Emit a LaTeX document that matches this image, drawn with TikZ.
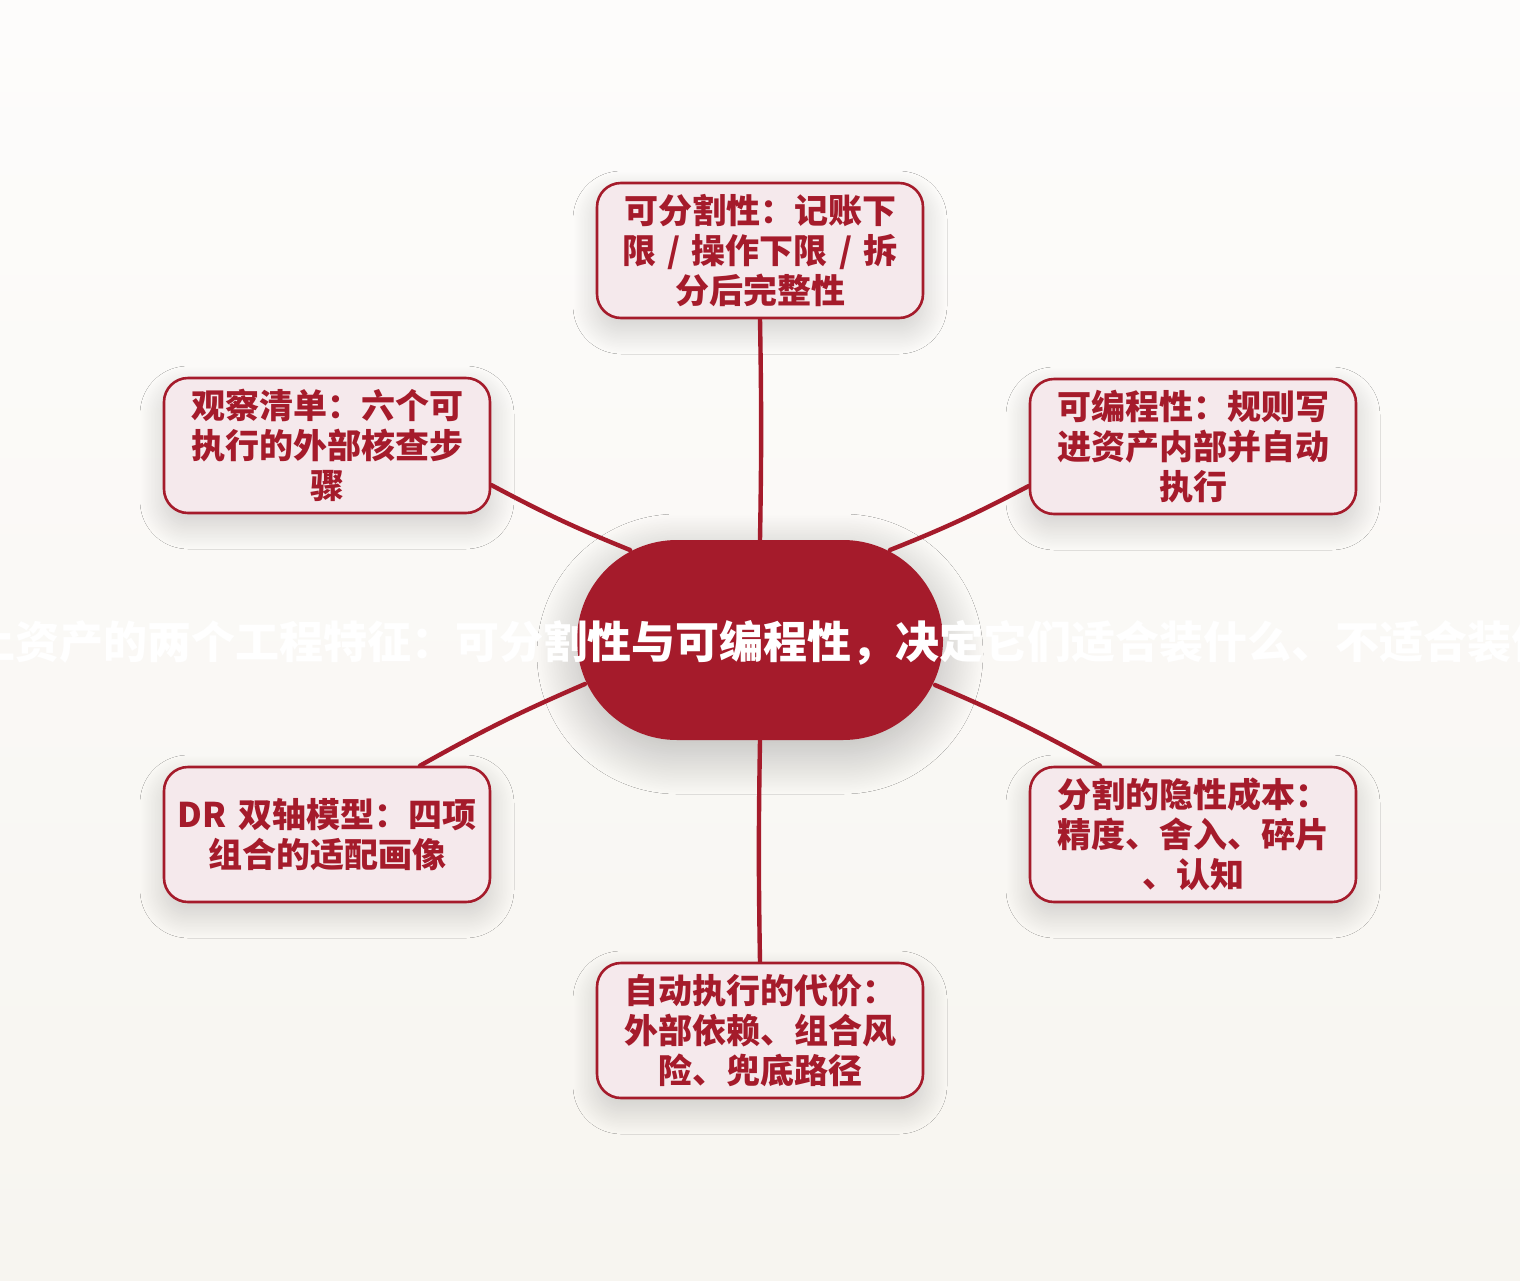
\documentclass[tikz,border=0pt]{standalone}
\usepackage{fontspec}
\setmainfont{Noto Sans CJK SC}
\usetikzlibrary{calc,shadows.blur}
\definecolor{dr}{RGB}{165,27,43}
\definecolor{pk}{RGB}{245,233,236}
\definecolor{bgtop}{RGB}{253,252,251}
\definecolor{bgbot}{RGB}{247,245,240}
\begin{document}
\begin{tikzpicture}[x=0.5pt,y=-0.5pt,
  leaf/.style={draw=dr, line width=1.3pt, fill=pk, rounded corners=12pt,
    minimum width=163pt, minimum height=67.5pt, inner sep=0pt,
    text width=158pt, align=center, text=dr,
    font=\fontsize{17}{20}\selectfont\bfseries,
    blur shadow={shadow xshift=0pt, shadow yshift=-6pt, shadow blur radius=12pt, shadow blur steps=40, shadow opacity=18}},
  hub/.style={fill=dr, rounded corners=50pt, minimum width=183pt, minimum height=100pt, inner sep=0pt,
    blur shadow={shadow xshift=0pt, shadow yshift=-7pt, shadow blur radius=20pt, shadow blur steps=50, shadow opacity=26}},
  hubtext/.style={text=white, inner sep=0pt, font=\fontsize{22}{26}\selectfont\bfseries},
  link/.style={draw=dr, line width=2.2pt, line cap=round}]
\useasboundingbox (0,0) rectangle (1520,1280);
\clip (0,0) rectangle (1520,1280);
\fill[top color=bgtop, bottom color=bgbot] (0,0) rectangle (1520,1280);

\node[hub] (c) at (760,640) {};

\node[leaf] (t) at (760,250.5) {可分割性：记账下\\限 / 操作下限 / 拆\\分后完整性};
\node[leaf] (ul) at (327,445.5) {观察清单：六个可\\执行的外部核查步\\骤};
\node[leaf] (ur) at (1193,446.5) {可编程性：规则写\\进资产内部并自动\\执行};
\node[leaf] (ll) at (327,834.5) {DR 双轴模型：四项\\组合的适配画像};
\node[leaf] (lr) at (1193,834.5) {分割的隐性成本：\\精度、舍入、碎片\\、认知};
\node[leaf] (b) at (760,1030.5) {自动执行的代价：\\外部依赖、组合风\\险、兜底路径};

\coordinate (cul) at ($(c)+(-130,-90)$);
\coordinate (cur) at ($(c)+(130,-90)$);
\coordinate (cll) at ($(c)+(-175,44)$);
\coordinate (clr) at ($(c)+(175,45)$);
\coordinate (bul) at ($(ul.east)+(0,39.5)$);
\coordinate (bur) at ($(ur.west)+(0,39.5)$);
\coordinate (bll) at ($(ll.north)+(93,0)$);
\coordinate (blr) at ($(lr.north)+(-93,0)$);

\draw[link] (t.south) to[bend left=1] (c.north);
\draw[link] (bul) to[bend right=3] (cul);
\draw[link] (bur) to[bend left=3] (cur);
\draw[link] (bll) to[bend left=3] (cll);
\draw[link] (blr) to[bend right=3] (clr);
\draw[link] (c.south) to[bend right=1] (b.north);

\node[hubtext] (ct) at (764,643) {链上资产的两个工程特征：可分割性与可编程性，决定它们适合装什么、不适合装什么};
\end{tikzpicture}
\end{document}
